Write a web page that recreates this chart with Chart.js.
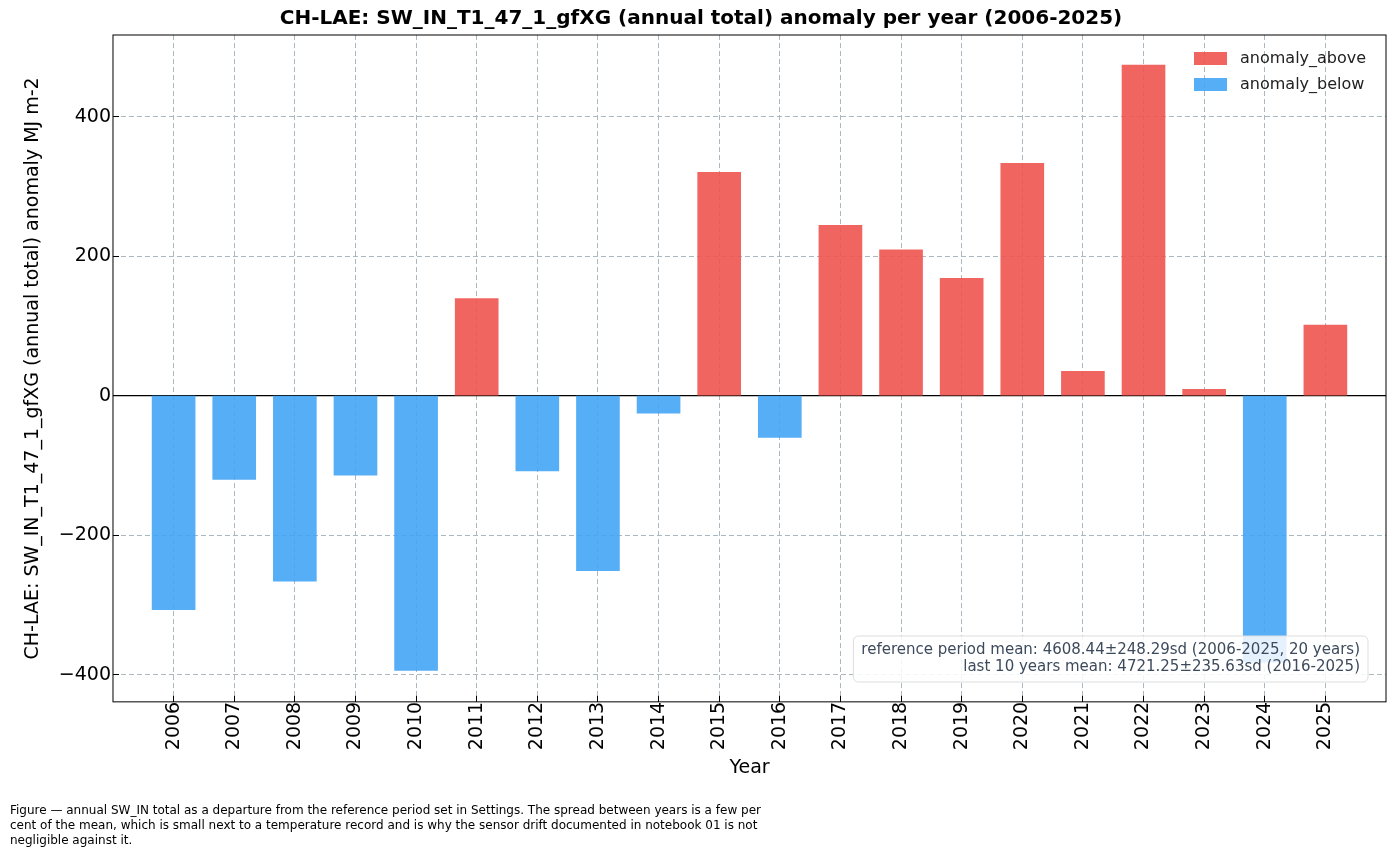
<!DOCTYPE html>
<html>
<head>
<meta charset="utf-8">
<script src="https://cdn.jsdelivr.net/npm/chart.js@4"></script>
<style>
  body { margin: 0; background: #fff; }
  #wrap { width: 1396px; height: 857px; position: relative; }
</style>
</head>
<body>
<div id="wrap"><canvas id="c"></canvas></div>
<script>
/* ================== DATA ================== */
const years = [2006, 2007, 2008, 2009, 2010, 2011, 2012, 2013, 2014, 2015,
               2016, 2017, 2018, 2019, 2020, 2021, 2022, 2023, 2024, 2025];
const anomaly = [-307, -120, -266, -114, -394, 139, -108, -251, -25, 320,
                 -60, 244, 209, 168, 333, 35, 474, 9, -382, 101];
const statsLines = [
  "reference period mean: 4608.44\u00b1248.29sd (2006-2025, 20 years)",
  "last 10 years mean: 4721.25\u00b1235.63sd (2016-2025)"
];
const captionLines = [
  "Figure \u2014 annual SW_IN total as a departure from the reference period set in Settings. The spread between years is a few per",
  "cent of the mean, which is small next to a temperature record and is why the sensor drift documented in notebook 01 is not",
  "negligible against it."
];

const RED = "rgba(239,84,80,0.9)";
const BLUE = "rgba(66,165,245,0.9)";
const FONT = "'DejaVu Sans', sans-serif";

const above = years.map((y, i) => ({ x: y, y: anomaly[i] >= 0 ? anomaly[i] : null }));
const below = years.map((y, i) => ({ x: y, y: anomaly[i] < 0 ? anomaly[i] : null }));

/* ================== OVERLAY PLUGIN ================== */
const overlay = {
  id: "overlay",
  beforeDatasetsDraw(chart) {
    const { ctx, chartArea: a, scales } = chart;
    const y0 = scales.y.getPixelForValue(0);
    ctx.save();
    ctx.strokeStyle = "#000";
    ctx.lineWidth = 1.2;
    ctx.beginPath();
    ctx.moveTo(a.left, y0); ctx.lineTo(a.right, y0);
    ctx.stroke();
    ctx.restore();
  },
  afterDraw(chart) {
    const { ctx, chartArea: a } = chart;
    ctx.save();
    ctx.strokeStyle = "#000";
    ctx.lineWidth = 1;
    ctx.strokeRect(a.left, a.top, a.right - a.left, a.bottom - a.top);

    // legend
    ctx.font = "16px " + FONT;
    ctx.textBaseline = "middle";
    [["anomaly_above", RED], ["anomaly_below", BLUE]].forEach(([t, c], i) => {
      const yy = a.top + 24 + i * 26;
      ctx.fillStyle = c;
      ctx.fillRect(1194, yy - 7, 33, 13);
      ctx.fillStyle = "#222";
      ctx.fillText(t, 1240, yy);
    });

    // stats box
    ctx.font = "15px " + FONT;
    const w = Math.max(...statsLines.map(s => ctx.measureText(s).width)) + 16;
    const bx = a.right - 18 - w, by = 636, bh = 46;
    ctx.fillStyle = "rgba(255,255,255,0.85)";
    ctx.strokeStyle = "#ddd";
    ctx.beginPath();
    ctx.roundRect(bx, by, w, bh, 5);
    ctx.fill(); ctx.stroke();
    ctx.fillStyle = "#3d4a5c";
    ctx.textAlign = "right";
    statsLines.forEach((s, i) => ctx.fillText(s, a.right - 26, by + 14 + i * 17));

    // caption
    ctx.textAlign = "left";
    ctx.fillStyle = "#000";
    ctx.font = "12px " + FONT;
    captionLines.forEach((s, i) => ctx.fillText(s, 10, 811 + i * 15));
    ctx.restore();
  }
};

/* ================== CHART ================== */
new Chart(document.getElementById("c"), {
  type: "bar",
  data: {
    datasets: [
      { label: "anomaly_above", data: above, backgroundColor: RED, barThickness: 43 },
      { label: "anomaly_below", data: below, backgroundColor: BLUE, barThickness: 43 }
    ]
  },
  options: {
    responsive: true,
    maintainAspectRatio: false,
    animation: false,
    layout: { padding: { top: 0, right: 10, bottom: 78, left: 16 } },
    plugins: {
      legend: { display: false },
      tooltip: { enabled: false },
      title: {
        display: true,
        text: "CH-LAE: SW_IN_T1_47_1_gfXG (annual total) anomaly per year (2006-2025)",
        font: { family: FONT, size: 20, weight: "bold" },
        color: "#000",
        padding: { top: 7, bottom: 4 }
      }
    },
    scales: {
      x: {
        type: "linear",
        stacked: true,
        offset: false,
        min: 2005, max: 2026,
        afterBuildTicks: ax => { ax.ticks = years.map(v => ({ value: v })); },
        ticks: {
          maxRotation: 90, minRotation: 90, padding: 6,
          font: { family: FONT, size: 19 }, color: "#000",
          callback: v => String(v)
        },
        grid: { offset: false, color: "#aab8c2", tickColor: "#000", tickLength: -6 },
        border: { display: false, dash: [5, 3] },
        title: { display: true, text: "Year", font: { family: FONT, size: 19 }, color: "#000", padding: 0 }
      },
      y: {
        stacked: true,
        min: -439, max: 517,
        afterBuildTicks: ax => { ax.ticks = [-400, -200, 0, 200, 400].map(v => ({ value: v })); },
        ticks: { padding: 8, font: { family: FONT, size: 19 }, color: "#000", callback: v => String(v).replace("-", "\u2212") },
        grid: { color: "#aab8c2", tickColor: "#000", tickLength: -6 },
        border: { display: false, dash: [5, 3] },
        title: { display: true, text: "CH-LAE: SW_IN_T1_47_1_gfXG (annual total) anomaly MJ m-2", font: { family: FONT, size: 19 }, color: "#000", padding: 6 }
      }
    }
  },
  plugins: [overlay]
});
</script>
</body>
</html>
